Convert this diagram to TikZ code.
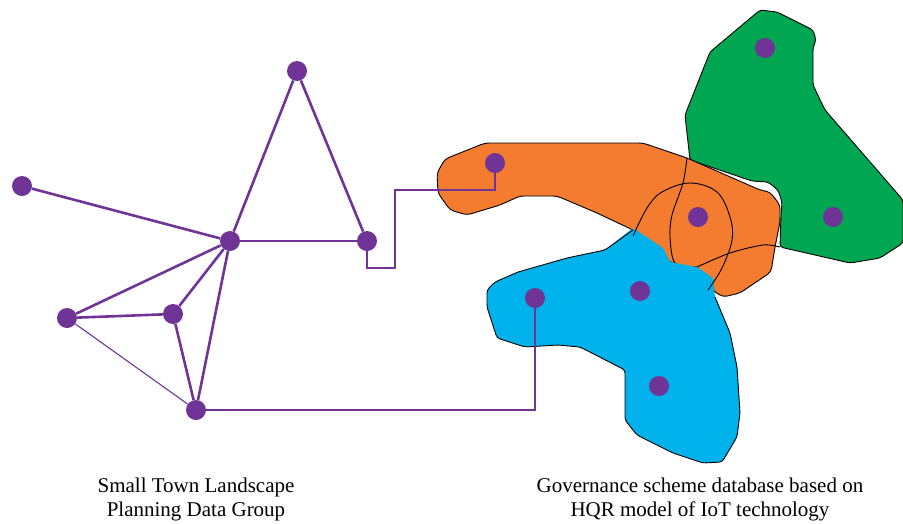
\documentclass[tikz,border=0pt]{standalone}
\usepackage{fontspec}
\setmainfont{Liberation Serif}
\definecolor{pur}{RGB}{112,52,150}
\definecolor{org}{RGB}{243,124,48}
\definecolor{grn}{RGB}{0,166,81}
\definecolor{blu}{RGB}{0,178,236}
\begin{document}
\begin{tikzpicture}[x=1pt,y=-1pt,
  dot/.style={circle,fill=pur,inner sep=0pt,minimum size=20pt},
  edge/.style={pur,line width=2.6pt},
  thinedge/.style={pur,line width=1.1pt},
  outl/.style={black,line width=0.9pt,line join=round},
  lbl/.style={anchor=base,inner sep=0pt,font=\fontsize{21}{24}\selectfont}]
\useasboundingbox (0,0) rectangle (903,523);
% green region
\fill[grn,draw=black,line width=0.9pt,rounded corners=3pt] (710,52) -- (760,10) -- (777,12) -- (813,30) -- (816,40) -- (813,48) -- (813,85) -- (825,110) -- (903,200) -- (903,243) -- (880,258) -- (850,263) -- (780,247) -- (781,215) -- (782,202) -- (778,190) -- (768,182) -- (752,181) -- (690,160) -- (685,115) -- cycle;
% orange region
\fill[org,draw=black,line width=0.9pt,rounded corners=4pt] (445,159) -- (485,143) -- (643,143) -- (687,158) -- (760,190) -- (770,192) -- (780,205) -- (780,222) -- (775,247) -- (771,272) -- (740,293) -- (723,297) -- (712,290) -- (712,278) -- (670,262) -- (633,230) -- (597,213) -- (557,196) -- (520,196) -- (500,205) -- (467,215) -- (450,210) -- (438,193) -- (437,173) -- cycle;
% hidden green boundary
\draw[outl] plot[smooth,tension=0.5] coordinates {(687,158) (683,183) (672,215) (670,237) (675,263) (697,267)};
\draw[outl] plot[smooth,tension=0.5] coordinates {(697,267) (730,253) (763,245) (780,247)};
% blue region
\fill[blu,rounded corners=3pt] (633,228) -- (663,248) -- (670,262) -- (697,267) -- (713,278) -- (715,297) -- (730,333) -- (737,367) -- (740,413) -- (737,437) -- (722,462) -- (703,463) -- (673,453) -- (637,435) -- (625,420) -- (625,370) -- (580,347) -- (558,345) -- (525,347) -- (497,338) -- (487,307) -- (487,290) -- (495,282) -- (518,272) -- (567,258) -- (605,250) -- cycle;
\draw[outl,rounded corners=3pt] (715,297) -- (730,333) -- (737,367) -- (740,413) -- (737,437) -- (722,462) -- (703,463) -- (673,453) -- (637,435) -- (625,420) -- (625,370) -- (580,347) -- (558,345) -- (525,347) -- (497,338) -- (487,307) -- (487,290) -- (495,282) -- (518,272) -- (567,258) -- (605,250) -- (633,230);
% circular boundary
\draw[outl] plot[smooth,tension=0.6] coordinates {(633,236) (647,208) (662,192) (690,183) (717,192) (730,217) (732,240) (722,268) (708,290)};
% dots
\node[dot] (top) at (297,71) {};
\node[dot] (far) at (22,186) {};
\node[dot] (hub) at (230,241) {};
\node[dot] (rt) at (367,241) {};
\node[dot] (lm) at (67,318) {};
\node[dot] (md) at (173,314) {};
\node[dot] (bt) at (196,410) {};
\node[dot] (o1) at (495,163) {};
\node[dot] (o2) at (698,217) {};
\node[dot] (g1) at (765,48) {};
\node[dot] (g2) at (833,217) {};
\node[dot] (b1) at (535,298) {};
\node[dot] (b2) at (640,291) {};
\node[dot] (b3) at (659,386) {};
\coordinate (c1) at (367,268);
\coordinate (c2) at (395,268);
\coordinate (c3) at (395,190);
\coordinate (c4) at (495,190);
\coordinate (c5) at (535,410);
% edges
\draw[edge] (top) -- (hub);
\draw[edge] (top) -- (rt);
\draw[edge] (hub) -- (rt);
\draw[edge] (hub) -- (far);
\draw[edge] (hub) -- (lm);
\draw[edge] (hub) -- (md);
\draw[edge] (hub) -- (bt);
\draw[edge] (lm) -- (md);
\draw[edge] (md) -- (bt);
\draw[thinedge] (lm) -- (bt);
\draw[edge,line width=2.2pt] (rt) -- (c1) -- (c2) -- (c3) -- (c4) -- (o1);
\draw[edge,line width=2.2pt] (bt) -- (c5) -- (b1);
% labels
\node[lbl] (lt1) at (196,492) {Small Town Landscape};
\node[lbl] (lt2) at (196,516) {Planning Data Group};
\node[lbl] (rt1) at (700,492) {Governance scheme database based on};
\node[lbl] (rt2) at (700,516) {HQR model of IoT technology};
\end{tikzpicture}
\end{document}
